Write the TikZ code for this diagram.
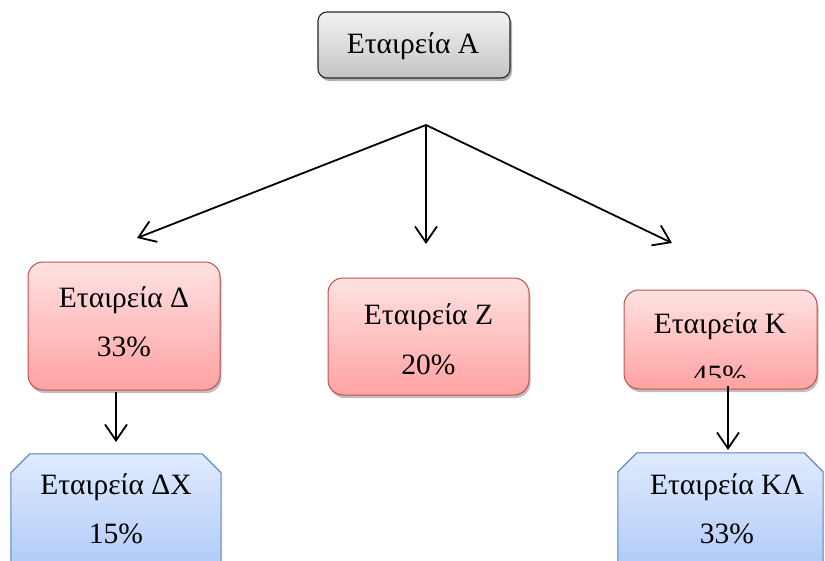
\documentclass[tikz,border=0pt]{standalone}
\usepackage{fontspec}
\setmainfont{Liberation Serif}
\usetikzlibrary{arrows.meta,shadows}
\definecolor{rtop}{HTML}{FFE2E2}
\definecolor{rbot}{HTML}{FFA2A2}
\definecolor{rline}{HTML}{C0504D}
\definecolor{btop}{HTML}{DFEAFF}
\definecolor{bbot}{HTML}{A3C2F5}
\definecolor{bline}{HTML}{4F81BD}
\definecolor{gtop}{HTML}{F3F3F3}
\definecolor{gbot}{HTML}{C4C4C4}
\tikzset{
  gbox/.style={draw=black!85, line width=1.1pt, rounded corners=9pt, top color=gtop, bottom color=gbot, drop shadow={shadow xshift=2pt, shadow yshift=-3pt, fill=black!50, opacity=0.6}, minimum width=192pt, minimum height=66pt, inner sep=0pt},
  rbox/.style={draw=rline, line width=1pt, rounded corners=15pt, top color=rtop, bottom color=rbot, drop shadow={shadow xshift=1.5pt, shadow yshift=-3pt, fill=black!50, opacity=0.5}, inner sep=0pt},
  frame/.style={inner sep=0pt},
  bfill/.style={draw=bline, line width=1pt, top color=btop, bottom color=bbot},
  txt/.style={font=\fontsize{29.5}{30}\selectfont, anchor=base, inner sep=0pt},
  arr/.style={line width=1.8pt, -{Straight Barb[length=16pt,width=22pt,line width=1.8pt]}}
}
\begin{document}
\begin{tikzpicture}[x=1pt,y=-1pt]
\useasboundingbox (0,0) rectangle (825,560);
\clip (0,0) rectangle (825,560);
\node[gbox] (A) at (414,45) {};
\node[txt] (At) at (413,53) {Εταιρεία Α};

\node[rbox, minimum width=192pt, minimum height=128pt] (D) at (124,326) {};
\node[txt] (Dt1) at (124,307) {Εταιρεία Δ};
\node[txt] (Dt2) at (124,356) {33\%};

\node[rbox, minimum width=201pt, minimum height=117pt] (Z) at (428.5,336.5) {};
\node[txt] (Zt1) at (428.5,324) {Εταιρεία Ζ};
\node[txt] (Zt2) at (428.5,374) {20\%};

\node[rbox, minimum width=193pt, minimum height=99pt] (K) at (720.5,339.5) {};
\node[txt] (Kt1) at (720,333) {Εταιρεία Κ};
\begin{scope}
\clip (600,350) rectangle (825,377);
\node[txt] (Kt2) at (720,385) {45\%};
\end{scope}

\node[frame, minimum width=210pt, minimum height=146pt] (DX) at (116,527) {};
\shade[bfill] (DX.south west) -- ([yshift=-19pt]DX.north west) -- ([xshift=19pt]DX.north west) -- ([xshift=-19pt]DX.north east) -- ([yshift=-19pt]DX.north east) -- (DX.south east) -- cycle;
\node[txt] (DXt1) at (116,494) {Εταιρεία ΔΧ};
\node[txt] (DXt2) at (116,543) {15\%};

\node[frame, minimum width=205pt, minimum height=147pt] (KL) at (720.5,526.5) {};
\shade[bfill] (KL.south west) -- ([yshift=-19pt]KL.north west) -- ([xshift=19pt]KL.north west) -- ([xshift=-19pt]KL.north east) -- ([yshift=-19pt]KL.north east) -- (KL.south east) -- cycle;
\node[txt] (KLt1) at (727,494) {Εταιρεία ΚΛ};
\node[txt] (KLt2) at (727,543) {33\%};

\coordinate (J) at (426,125);
\coordinate (eD) at (137,238);
\coordinate (eZ) at (426,244);
\coordinate (eK) at (672,243);
\draw[arr] (J) -- (eD);
\draw[arr] (J) -- (eZ);
\draw[arr] (J) -- (eK);

\coordinate (sD) at (116,392);
\coordinate (eDX) at (116,442);
\draw[arr] (sD) -- (eDX);
\coordinate (sK) at (728,386);
\coordinate (eKL) at (728,450);
\draw[arr] (sK) -- (eKL);
\end{tikzpicture}
\end{document}
